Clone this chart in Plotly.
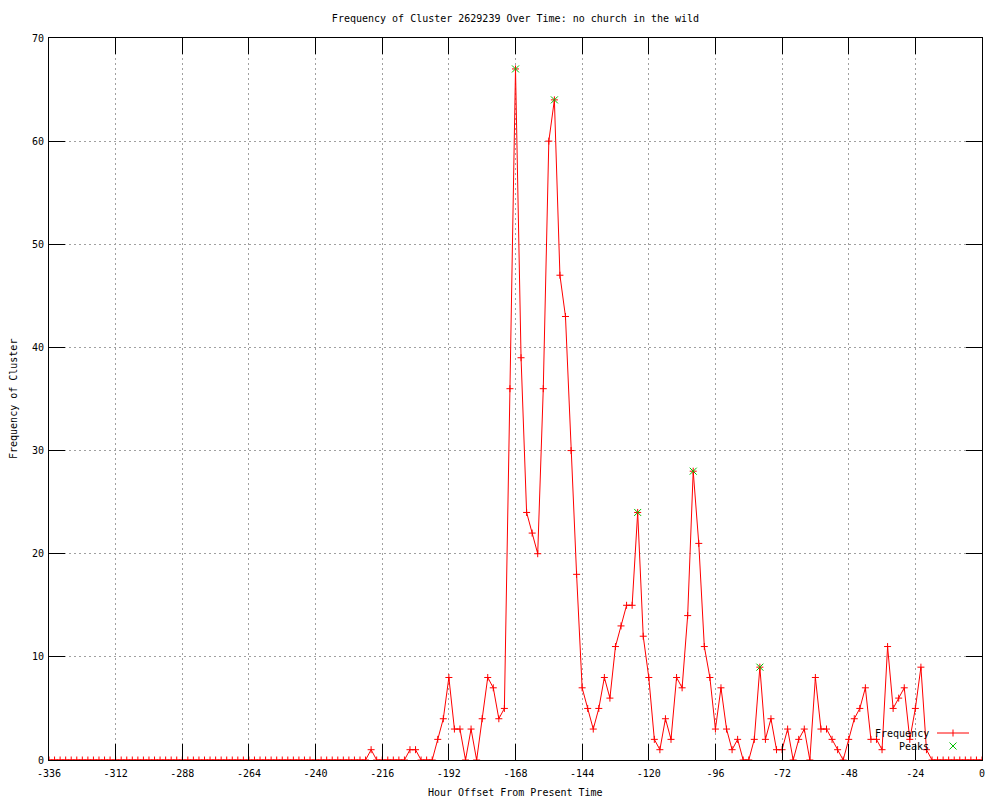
import plotly.graph_objects as go

# ---- data ----
hours = list(range(-336, 1, 2))
frequency = [0] * 58 + [
    1, 0, 0, 0, 0, 0, 0, 1, 1, 0,
    0, 0, 2, 4, 8, 3, 3, 0, 3, 0,
    4, 8, 7, 4, 5, 36, 67, 39, 24, 22,
    20, 36, 60, 64, 47, 43, 30, 18, 7, 5,
    3, 5, 8, 6, 11, 13, 15, 15, 24, 12,
    8, 2, 1, 4, 2, 8, 7, 14, 28, 21,
    11, 8, 3, 7, 3, 1, 2, 0, 0, 2,
    9, 2, 4, 1, 1, 3, 0, 2, 3, 0,
    8, 3, 3, 2, 1, 0, 2, 4, 5, 7,
    2, 2, 1, 11, 5, 6, 7, 2, 5, 9,
    1,
] + [0] * 10
peak_hours = [-168, -154, -124, -104, -80]
peak_values = [67, 64, 24, 28, 9]

x_ticks = list(range(-336, 1, 24))
x_tick_labels = [str(v) for v in x_ticks]
y_ticks = list(range(0, 71, 10))
y_tick_labels = [str(v) for v in y_ticks]

title_text = "Frequency of Cluster 2629239 Over Time: no church in the wild"
x_title = "Hour Offset From Present Time"
y_title = "Frequency of Cluster"

RED = "#ff0000"
GREEN = "#00c000"
FONT = dict(family="DejaVu Sans Mono", size=10, color="black")

fig = go.Figure()
fig.add_trace(go.Scatter(
    x=hours, y=frequency, mode="lines+markers", name="Frequency",
    line=dict(color=RED, width=1),
    marker=dict(symbol="cross-thin-open", size=5, color=RED,
                line=dict(color=RED, width=1)),
))
fig.add_trace(go.Scatter(
    x=peak_hours, y=peak_values, mode="markers", name="Peaks",
    marker=dict(symbol="x-thin-open", size=7, color=GREEN,
                line=dict(color=GREEN, width=1)),
))

axis_common = dict(
    ticks="inside", tickcolor="black", showline=True, linecolor="black",
    linewidth=1, mirror="ticks", showgrid=True, gridcolor="#a0a0a0",
    griddash="2px,3px", gridwidth=1, zeroline=False, tickfont=FONT,
    automargin=False,
)
fig.update_xaxes(range=[-336, 0], tickmode="array", tickvals=x_ticks,
                 ticktext=x_tick_labels, ticklen=16, ticklabelstandoff=4,
                 **axis_common)
fig.update_yaxes(range=[0, 70], tickmode="array", tickvals=y_ticks,
                 ticktext=y_tick_labels, ticklen=16, ticklabelstandoff=2,
                 **axis_common)

# the page body has an 8px margin, so figure margins are offset by 8px
OFF = 8
L, R, T, B = 49 - OFF, 26, 38 - OFF, 48
PW, PH = 933, 722

def px_x(p):  # page pixel -> paper fraction
    return (p - 49) / PW

def px_y(p):
    return (760 - p) / PH

annotations = [
    dict(text=x_title, xref="paper", yref="paper", x=0.5, y=px_y(793),
         xanchor="center", yanchor="middle", showarrow=False, font=FONT),
    dict(text=y_title, xref="paper", yref="paper", x=px_x(13), y=0.5,
         xanchor="center", yanchor="middle", textangle=-90,
         showarrow=False, font=FONT),
    dict(text="Frequency", xref="paper", yref="paper", x=px_x(931),
         y=px_y(733), xanchor="right", yanchor="middle", showarrow=False,
         font=FONT),
    dict(text="Peaks", xref="paper", yref="paper", x=px_x(931),
         y=px_y(746), xanchor="right", yanchor="middle", showarrow=False,
         font=FONT),
]

# legend samples (gnuplot style: text then sample)
shapes = []
ly1 = px_y(733)
shapes.append(dict(type="line", xref="paper", yref="paper",
                   x0=px_x(937), x1=px_x(969), y0=ly1, y1=ly1,
                   line=dict(color=RED, width=1)))
shapes.append(dict(type="line", xref="paper", yref="paper",
                   x0=px_x(953), x1=px_x(953), y0=px_y(729.5), y1=px_y(736.5),
                   line=dict(color=RED, width=1)))
shapes.append(dict(type="line", xref="paper", yref="paper",
                   x0=px_x(949.5), x1=px_x(956.5), y0=px_y(742.5), y1=px_y(749.5),
                   line=dict(color=GREEN, width=1)))
shapes.append(dict(type="line", xref="paper", yref="paper",
                   x0=px_x(949.5), x1=px_x(956.5), y0=px_y(749.5), y1=px_y(742.5),
                   line=dict(color=GREEN, width=1)))

fig.update_layout(
    width=1000, height=800,
    margin=dict(l=L, r=R, t=T, b=B, pad=0, autoexpand=False),
    paper_bgcolor="white", plot_bgcolor="white",
    showlegend=False,
    title=dict(text=title_text, x=0.5, xref="paper", xanchor="center",
               y=1 - (18 - OFF) / 800, yref="container", yanchor="middle",
               font=FONT),
    annotations=annotations,
    shapes=shapes,
    font=FONT,
)

fig.write_html("out.html")
